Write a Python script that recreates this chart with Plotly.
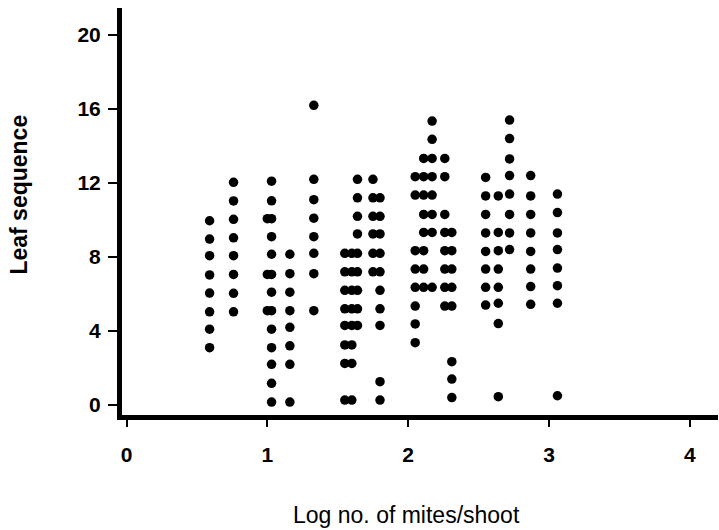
import plotly.graph_objects as go

# Column x positions (log no. of mites/shoot) and the leaf-sequence values of the dots in each
col_x = [0.59, 0.76, 1.00, 1.03, 1.16, 1.33,
         1.55, 1.60, 1.64, 1.75, 1.80,
         2.05, 2.11, 2.17, 2.26, 2.31,
         2.55, 2.64, 2.72, 2.87, 3.06]
col_y = [
    [9.96, 8.97, 8.07, 7.03, 6.05, 5.04, 4.1, 3.1],
    [12.04, 11.03, 10.04, 9.04, 8.07, 7.06, 6.04, 5.04],
    [10.07, 7.06, 5.1],
    [12.1, 11.04, 10.07, 9.1, 8.15, 7.06, 6.1, 5.1, 4.1, 3.1, 2.2, 1.17, 0.16],
    [8.15, 7.1, 6.1, 5.1, 4.2, 3.2, 2.2, 0.16],
    [16.2, 12.2, 11.1, 10.1, 9.1, 8.2, 7.1, 5.1],
    [8.2, 7.2, 6.2, 5.2, 4.3, 3.25, 2.25, 0.27],
    [8.2, 7.2, 6.2, 5.2, 4.3, 3.25, 2.25, 0.27],
    [12.2, 11.2, 10.2, 9.25, 8.2, 7.2, 6.2, 5.2, 4.3],
    [12.2, 11.2, 10.2, 9.25, 8.2, 7.2],
    [11.2, 10.2, 9.25, 8.2, 7.2, 6.2, 5.2, 4.3, 1.26, 0.27],
    [12.34, 11.35, 8.34, 7.35, 6.36, 5.35, 4.38, 3.37],
    [13.33, 12.34, 11.35, 10.3, 9.33, 8.34, 7.35, 6.36],
    [15.35, 14.36, 13.33, 12.34, 11.35, 10.3, 9.33, 6.36],
    [13.33, 12.34, 10.3, 9.33, 8.34, 7.35, 6.36, 5.35],
    [9.33, 8.34, 7.35, 6.36, 5.35, 2.34, 1.4, 0.4],
    [12.3, 11.3, 10.3, 9.3, 8.3, 7.35, 6.36, 5.4],
    [11.3, 9.33, 8.34, 7.35, 6.36, 5.5, 4.4, 0.45],
    [15.4, 14.4, 13.3, 12.4, 11.4, 10.3, 9.3, 8.4],
    [12.4, 11.3, 10.3, 9.3, 8.3, 7.35, 6.4, 5.44],
    [11.4, 10.4, 9.3, 8.4, 7.4, 6.45, 5.5, 0.5],
]

x_ticks = [0, 1, 2, 3, 4]
y_ticks = [0, 4, 8, 12, 16, 20]

xs, ys = [], []
for cx, cys in zip(col_x, col_y):
    for v in cys:
        xs.append(cx)
        ys.append(v)

L, R, T, B = 121.5, 718, 8, 415   # plot-area edges in pixels
W, H = 719, 530

fig = go.Figure()
fig.add_trace(go.Scatter(
    x=xs, y=ys, mode="markers",
    marker=dict(color="black", size=9.5, line=dict(width=0)),
    showlegend=False, hoverinfo="skip"))

font_family = "Liberation Sans, Arial, sans-serif"
tickfont = dict(family=font_family, size=21, color="black", weight="bold")

fig.update_layout(
    width=W, height=H,
    margin=dict(l=L, r=W - R, t=T, b=H - B),
    paper_bgcolor="white", plot_bgcolor="white",
    xaxis=dict(range=[-0.032, 4.2], tickvals=x_ticks, ticktext=[str(t) for t in x_ticks],
               showgrid=False, zeroline=False, showline=True, linewidth=5, linecolor="black",
               ticks="outside", ticklen=7, tickwidth=2, tickcolor="black",
               tickfont=tickfont, ticklabelstandoff=10),
    yaxis=dict(range=[-0.54, 21.46], tickvals=y_ticks, ticktext=[str(t) for t in y_ticks],
               showgrid=False, zeroline=False, showline=True, linewidth=5, linecolor="black",
               ticks="outside", ticklen=9, tickwidth=2, tickcolor="black",
               tickfont=tickfont, ticklabelstandoff=3),
    annotations=[
        dict(text="Log no. of mites/shoot", xref="paper", yref="paper",
             x=(406 - L) / (R - L), y=-(515 - B) / (B - T), xanchor="center", yanchor="middle",
             showarrow=False,
             font=dict(family=font_family, size=23, color="black")),
        dict(text="Leaf sequence", xref="paper", yref="paper", textangle=-90,
             x=-(L - 18) / (R - L), y=(B - 195) / (B - T), xanchor="center", yanchor="middle",
             showarrow=False,
             font=dict(family=font_family, size=23, color="black", weight="bold")),
    ],
)

fig.write_html("out.html")
